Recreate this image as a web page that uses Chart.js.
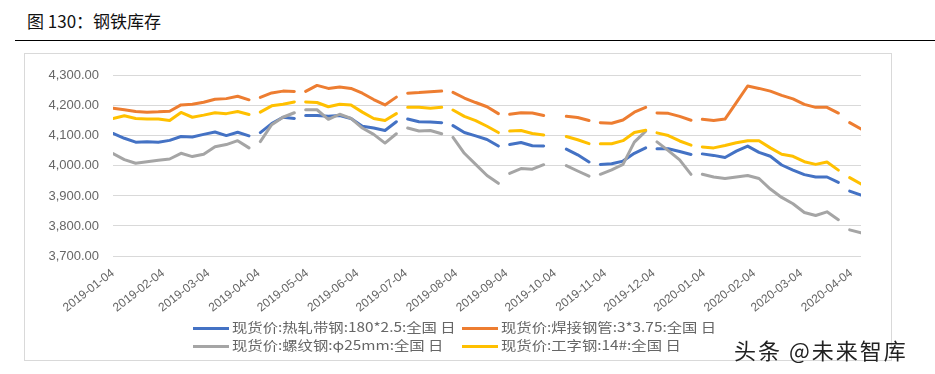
<!DOCTYPE html>
<html>
<head>
<meta charset="utf-8">
<script src="https://cdn.jsdelivr.net/npm/chart.js@4"></script>
<style>
    body { margin: 0; width: 935px; height: 374px; background: #fff; position: relative; overflow: hidden; font-family: "Noto Sans CJK SC", sans-serif; }
    #title { position: absolute; left: 27px; top: 8px; font-size: 17px; color: #111; }
    #rule { position: absolute; left: 15px; top: 40px; width: 920px; height: 1px; background: #000; }
    #box { position: absolute; left: 24px; top: 53px; width: 868px; height: 308px; border: 1px solid #d9d9d9; box-sizing: border-box; }
    #box canvas { position: absolute; left: 0; top: 0; }
    .lg { position: absolute; font-size: 13px; color: #666; white-space: nowrap; line-height: 16px; }
    .lg span.t { display: inline-block; transform: scaleX(1.18); transform-origin: left center; }
    .sw { display: inline-block; width: 36px; height: 3px; vertical-align: middle; margin-right: 3px; }
    #mark { position: absolute; left: 734px; top: 333px; font-size: 22px; color: #222; letter-spacing: 2px; }
</style>
</head>
<body>
<div id="title">图 130：钢铁库存</div>
<div id="rule"></div>
<div id="box"><canvas id="steelChart" width="866" height="270"></canvas></div>
<div class="lg" style="left:193px;top:319px"><span class="sw" style="background:#4472C4"></span><span class="t">现货价:热轧带钢:180*2.5:全国 日</span></div>
<div class="lg" style="left:462px;top:319px"><span class="sw" style="background:#ED7D31"></span><span class="t">现货价:焊接钢管:3*3.75:全国 日</span></div>
<div class="lg" style="left:193px;top:337px"><span class="sw" style="background:#A5A5A5"></span><span class="t">现货价:螺纹钢:φ25mm:全国 日</span></div>
<div class="lg" style="left:462px;top:337px"><span class="sw" style="background:#FFC000"></span><span class="t">现货价:工字钢:14#:全国 日</span></div>
<div id="mark">头条 @未来智库</div>
<script>
// weekly observation dates
const dates = [
    '2019-01-04','2019-01-11','2019-01-18','2019-01-25','2019-02-01','2019-02-08','2019-02-15','2019-02-22','2019-03-01','2019-03-08','2019-03-15','2019-03-22','2019-03-29',
    '2019-04-05','2019-04-12','2019-04-19','2019-04-26',
    '2019-05-03','2019-05-10','2019-05-17','2019-05-24','2019-05-31','2019-06-07','2019-06-14','2019-06-21','2019-06-28',
    '2019-07-05','2019-07-12','2019-07-19','2019-07-26',
    '2019-08-02','2019-08-09','2019-08-16','2019-08-23','2019-08-30',
    '2019-09-06','2019-09-13','2019-09-20','2019-09-27',
    '2019-10-11','2019-10-18','2019-10-25',
    '2019-11-01','2019-11-08','2019-11-15','2019-11-22','2019-11-29',
    '2019-12-06','2019-12-13','2019-12-20','2019-12-27',
    '2020-01-03','2020-01-10','2020-01-17','2020-01-24','2020-01-31','2020-02-07','2020-02-14','2020-02-21','2020-02-28','2020-03-06','2020-03-13','2020-03-20','2020-03-27',
    '2020-04-03','2020-04-10'
];
// line is broken after these dates
const breakAfter = ['2019-03-29','2019-04-26','2019-06-28','2019-07-26','2019-08-30','2019-09-27','2019-10-25','2019-11-29','2019-12-27','2020-03-27'];

const hotRolled = [
    4108,4092,4079,4080,4079,4085,4098,4096,4105,4113,4101,4112,4100,
    4111,4141,4162,4158,
    4168,4168,4165,4168,4158,4132,4126,4118,4147,
    4156,4147,4146,4144,
    4134,4111,4100,4088,4066,
    4071,4078,4067,4066,
    4056,4037,4013,
    4005,4007,4016,4042,4060,
    4057,4057,4048,4038,
    4040,4035,4028,4049,4066,4045,4032,4003,3986,3971,3963,3963,3945,
    3916,3903
];
const weldedPipe = [
    4192,4187,4181,4179,4180,4182,4203,4205,4212,4222,4224,4232,4220,
    4228,4243,4249,4248,
    4248,4268,4258,4263,4258,4242,4221,4203,4229,
    4242,4244,4247,4249,
    4245,4226,4211,4197,4174,
    4172,4177,4176,4168,
    4165,4161,4151,
    4144,4142,4153,4179,4195,
    4176,4175,4165,4152,
    4155,4151,4156,4211,4266,4258,4249,4235,4223,4205,4195,4195,4176,
    4144,4123
];
const rebar = [
    4041,4021,4009,4014,4019,4023,4042,4031,4039,4064,4071,4084,4060,
    4081,4137,4162,4177,
    4187,4187,4155,4172,4158,4126,4105,4076,4107,
    4126,4116,4118,4107,
    4095,4042,4005,3968,3942,
    3975,3991,3989,4004,
    4001,3983,3966,
    3972,3987,4005,4079,4116,
    4080,4051,4020,3972,
    3972,3963,3958,3963,3968,3958,3923,3895,3874,3845,3835,3847,3821,
    3787,3777
];
const iBeam = [
    4158,4167,4158,4156,4156,4151,4178,4162,4169,4177,4174,4181,4171,
    4179,4200,4205,4213,
    4213,4211,4197,4205,4203,4179,4158,4151,4174,
    4195,4195,4192,4195,
    4186,4165,4151,4132,4111,
    4116,4118,4108,4103,
    4098,4087,4074,
    4074,4074,4084,4111,4119,
    4110,4101,4083,4069,
    4063,4060,4068,4077,4084,4084,4060,4039,4032,4014,4005,4013,3986,
    3961,3940
];
const tickLabels = [
    '2019-01-04','2019-02-04','2019-03-04','2019-04-04','2019-05-04','2019-06-04','2019-07-04','2019-08-04',
    '2019-09-04','2019-10-04','2019-11-04','2019-12-04','2020-01-04','2020-02-04','2020-03-04','2020-04-04'
];

const base = Date.UTC(2019, 0, 4);
const day = s => {
    const [y, m, d] = s.split('-').map(Number);
    return (Date.UTC(y, m - 1, d) - base) / 864e5;
};
const toPoints = vals => {
    const out = [];
    dates.forEach((d, i) => {
        out.push({ x: day(d), y: vals[i] });
        if (breakAfter.includes(d)) out.push({ x: day(d) + 3, y: null });
    });
    return out;
};

const line = (label, vals, color, order) => ({
    label, data: toPoints(vals), borderColor: color, backgroundColor: color,
    borderWidth: 3, pointRadius: 0, tension: 0, spanGaps: false, order,
    borderCapStyle: 'round', borderJoinStyle: 'round'
});

new Chart(document.getElementById('steelChart'), {
    type: 'line',
    data: {
        datasets: [
            line('现货价:热轧带钢:180*2.5:全国 日', hotRolled, '#4472C4', 4),
            line('现货价:焊接钢管:3*3.75:全国 日', weldedPipe, '#ED7D31', 3),
            line('现货价:螺纹钢:φ25mm:全国 日', rebar, '#A5A5A5', 2),
            line('现货价:工字钢:14#:全国 日', iBeam, '#FFC000', 1)
        ]
    },
    options: {
        responsive: false,
        animation: false,
        devicePixelRatio: 1,
        layout: { padding: { left: 0, right: 30, top: 12.7, bottom: 0 } },
        plugins: { legend: { display: false }, tooltip: { enabled: false } },
        scales: {
            x: {
                type: 'linear',
                min: 0,
                max: day(dates[dates.length - 1]),
                afterBuildTicks: axis => { axis.ticks = tickLabels.map(t => ({ value: day(t) })); },
                afterFit: axis => { axis.height = 68; },
                grid: { display: false },
                border: { display: false },
                ticks: {
                    autoSkip: false, minRotation: 38, maxRotation: 38, padding: 2,
                    color: '#666', font: { family: 'Liberation Sans', size: 12 },
                    callback: (v, i) => tickLabels[i]
                }
            },
            y: {
                min: 3700,
                max: 4300,
                afterFit: axis => { axis.width = 88; },
                grid: { color: '#d9d9d9', lineWidth: 1, drawTicks: false },
                border: { display: false },
                ticks: {
                    stepSize: 100, padding: 14, color: '#666',
                    font: { family: 'Liberation Sans', size: 13 },
                    callback: v => v.toLocaleString('en-US', { minimumFractionDigits: 2, maximumFractionDigits: 2 })
                }
            }
        }
    }
});
</script>
</body>
</html>
